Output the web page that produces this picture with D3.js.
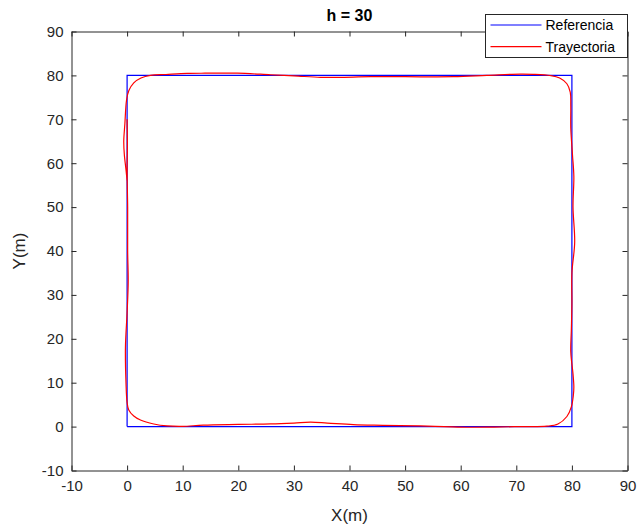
<!DOCTYPE html>
<html>
<head>
<meta charset="utf-8">
<script src="https://cdn.jsdelivr.net/npm/d3@7"></script>
<style>
  html, body { margin: 0; padding: 0; background: #fff; }
  svg { display: block; font-family: "Liberation Sans", Arial, Helvetica, sans-serif; }
</style>
</head>
<body>
<svg id="chart" width="638" height="530"></svg>
<script>
const titleText = "h = 30";
const xLabel = "X(m)";
const yLabel = "Y(m)";
const xTicks = [-10, 0, 10, 20, 30, 40, 50, 60, 70, 80, 90];
const yTicks = [-10, 0, 10, 20, 30, 40, 50, 60, 70, 80, 90];
const seriesNames = ["Referencia", "Trayectoria"];

const refX = [0, 80, 80, 0, 0];
const refY = [0, 0, 80, 80, 0];

const trajX = [0.0, 0.05, 0.0, 0.1, 0.1, 0.2, 0.0, -0.3, -0.2, 0.0, 0.3, 1.2, 2.4, 4.8, 7.2, 10, 13.7, 20, 25.8, 30, 33, 36, 40.7, 46, 52.7, 57, 61.7, 66, 70.7, 75.5, 77.5, 79.1, 79.9, 80.25, 80.35, 80.2, 79.8, 79.9, 80.0, 80.0, 80.5, 80.2, 80.35, 80.1, 79.8, 79.8, 79.7, 79.1, 77.8, 76.2, 73, 70.7, 64.7, 58.7, 50, 43.8, 38, 34.8, 30, 25.8, 19.8, 14, 10.8, 7, 4.2, 2.5, 1.2, 0.3, -0.1, -0.4, -0.6, -0.5, -0.2, 0.0];
const trajY = [70, 64, 58, 50, 40, 33, 26, 18, 10, 5.5, 3.8, 2.4, 1.5, 0.6, 0.15, 0.05, 0.35, 0.5, 0.6, 0.8, 1.0, 0.8, 0.45, 0.3, 0.15, 0.0, -0.15, -0.1, 0.0, 0.1, 0.6, 2.3, 4.5, 7, 9, 12, 17, 22, 28, 35, 42, 50, 57, 62, 68, 73, 76.2, 78.1, 79.4, 79.95, 80.25, 80.3, 80.0, 79.7, 79.7, 79.7, 79.55, 79.55, 79.9, 80.15, 80.5, 80.5, 80.45, 80.2, 80.0, 79.4, 78.3, 76.5, 74.4, 69, 65, 62, 58.5, 56];

const W = 638, H = 530;
const m = { left: 71.5, right: 627.5, top: 31.5, bottom: 470.5 };
const axisColor = "#262626";

const svg = d3.select("#chart");
svg.append("rect").attr("width", W).attr("height", H).attr("fill", "#fff");

const x = d3.scaleLinear().domain([-10, 90]).range([m.left, m.right]);
const y = d3.scaleLinear().domain([-10, 90]).range([m.bottom, m.top]);

const tickLen = 5;
const fontSize = 15;
const fmt = d => String(d);

const gB = svg.append("g").attr("transform", `translate(0,${m.bottom})`)
  .call(d3.axisBottom(x).tickValues(xTicks).tickSizeInner(-tickLen).tickSizeOuter(0).tickPadding(10).tickFormat(fmt));
const gT = svg.append("g").attr("transform", `translate(0,${m.top})`)
  .call(d3.axisTop(x).tickValues(xTicks).tickSizeInner(-tickLen).tickSizeOuter(0).tickFormat(""));
const gL = svg.append("g").attr("transform", `translate(${m.left},0)`)
  .call(d3.axisLeft(y).tickValues(yTicks).tickSizeInner(-tickLen).tickSizeOuter(0).tickPadding(8).tickFormat(fmt));
const gR = svg.append("g").attr("transform", `translate(${m.right},0)`)
  .call(d3.axisRight(y).tickValues(yTicks).tickSizeInner(-tickLen).tickSizeOuter(0).tickFormat(""));

[gB, gT, gL, gR].forEach(g => {
  g.selectAll(".domain").attr("stroke", axisColor).attr("stroke-width", 1);
  g.selectAll(".tick line").attr("stroke", axisColor).attr("stroke-width", 1);
  g.selectAll("text").attr("fill", axisColor).attr("font-size", fontSize)
    .attr("font-family", "Liberation Sans, Arial, sans-serif");
});

const line = d3.line().x(d => x(d[0])).y(d => y(d[1]));
const refData = refX.map((v, i) => [v, refY[i]]);
const trajData = trajX.map((v, i) => [v, trajY[i]]);

svg.append("path").datum(refData).attr("d", line)
  .attr("fill", "none").attr("stroke", "#0000ff").attr("stroke-width", 1.2);
svg.append("path").datum(trajData).attr("d", line.curve(d3.curveCatmullRom.alpha(0.5)))
  .attr("fill", "none").attr("stroke", "#ff0000").attr("stroke-width", 1.2);

svg.append("text").attr("x", (m.left + m.right) / 2).attr("y", 21)
  .attr("text-anchor", "middle").attr("font-weight", "bold").attr("font-size", 16)
  .attr("fill", "#000").text(titleText);
svg.append("text").attr("x", (m.left + m.right) / 2).attr("y", 521)
  .attr("text-anchor", "middle").attr("font-size", 17).attr("fill", axisColor).text(xLabel);
svg.append("text").attr("transform", `translate(25,${(m.top + m.bottom) / 2}) rotate(-90)`)
  .attr("text-anchor", "middle").attr("font-size", 17).attr("fill", axisColor).text(yLabel);

const lg = svg.append("g");
lg.append("rect").attr("x", 485.5).attr("y", 14.5).attr("width", 142).attr("height", 43)
  .attr("fill", "#fff").attr("stroke", axisColor).attr("stroke-width", 1);
const legColors = ["#0000ff", "#ff0000"];
seriesNames.forEach((name, i) => {
  const yy = 25 + i * 21.7;
  lg.append("line").attr("x1", 490.5).attr("x2", 541.5).attr("y1", yy).attr("y2", yy)
    .attr("stroke", legColors[i]).attr("stroke-width", 1.2);
  lg.append("text").attr("x", 545.5).attr("y", yy + 5).attr("font-size", 14)
    .attr("fill", "#000").text(name);
});
</script>
</body>
</html>
